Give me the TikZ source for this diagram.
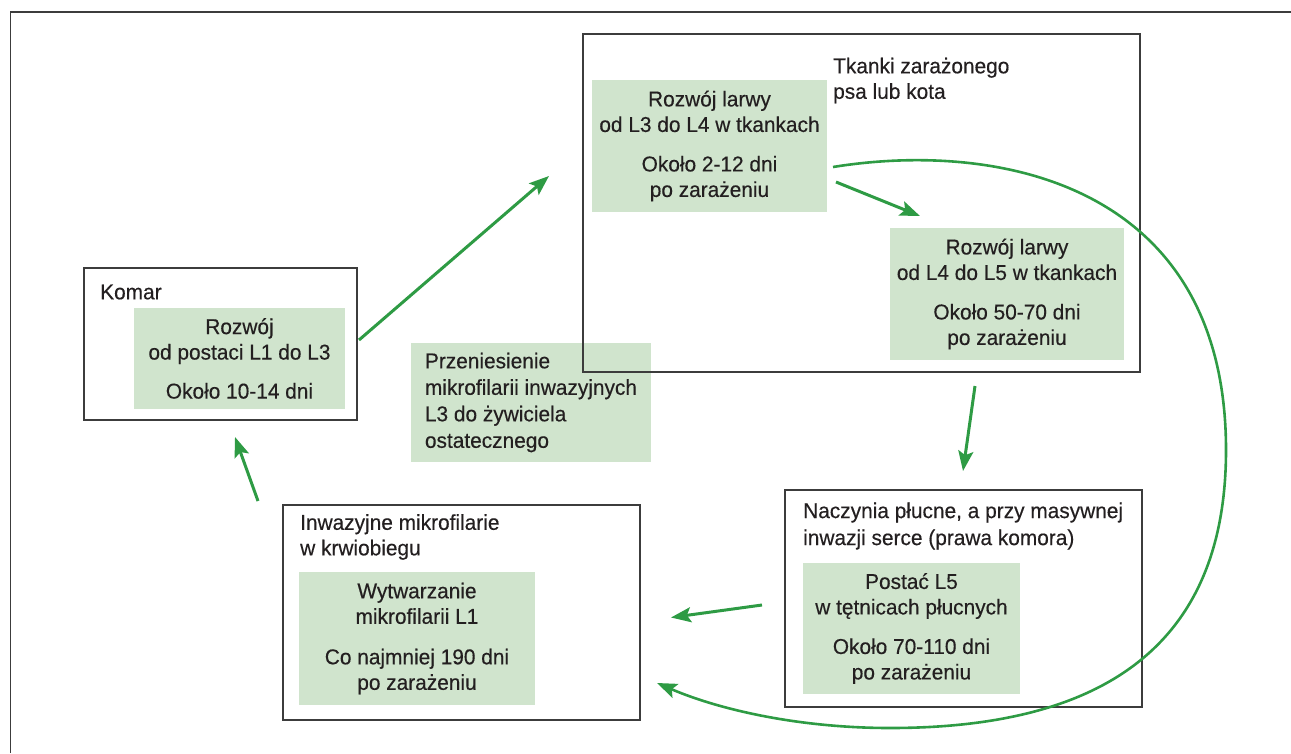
\documentclass[tikz,border=0pt]{standalone}
\usepackage{fontspec}
\setmainfont{Liberation Sans}[FakeStretch=0.97, FakeBold=0.35]
\usetikzlibrary{arrows.meta}
\definecolor{gfill}{RGB}{208,228,205}
\definecolor{garrow}{RGB}{46,155,68}
\definecolor{ink}{RGB}{35,31,32}
\definecolor{framec}{RGB}{60,60,60}
\begin{document}
\begin{tikzpicture}[x=1pt,y=-1pt,
  every node/.style={font=\fontsize{21.5}{25.5}\selectfont, text=ink},
  outerbox/.style={draw=framec, line width=1.3pt, inner sep=0pt},
  greenbox/.style={fill=gfill, inner sep=0pt, align=center},
  lbl/.style={inner sep=0pt, align=left, anchor=west},
  flow/.style={draw=garrow, line width=3pt, -{Stealth[length=20pt,width=15pt,inset=4pt]}}
]
\useasboundingbox (0,0) rectangle (1291,753);
% open outer frame
\coordinate (fA) at (10.5,753);
\coordinate (fB) at (10.5,12);
\coordinate (fC) at (1291,12);
\draw[framec, line width=1.5pt] (fA) -- (fB) -- (fC);

% transfer label box (behind host border)
\node[greenbox, align=left, minimum width=240pt, minimum height=119pt,
      font=\fontsize{21.5}{26.5}\selectfont] (transfer) at (531,402.5)
  {Przeniesienie\\mikrofilarii inwazyjnych\\L3 do żywiciela\\ostatecznego};

% outer boxes
\node[outerbox, minimum width=273pt, minimum height=152pt] (komar) at (220.5,344) {};
\node[outerbox, minimum width=557pt, minimum height=338pt] (host) at (861.5,203) {};
\node[outerbox, minimum width=357pt, minimum height=217pt] (vessels) at (963.5,598.5) {};
\node[outerbox, minimum width=357pt, minimum height=215pt] (blood) at (461.5,612.5) {};

% box labels
\node[lbl] (komarlbl) at (100,292) {Komar};
\node[lbl] (hostlbl) at (833,80.5) {Tkanki zarażonego\\psa lub kota};
\node[lbl, font=\fontsize{21.5}{27}\selectfont] (vessellbl) at (803,526) {Naczynia płucne, a przy masywnej\\inwazji serce (prawa komora)};
\node[lbl] (bloodlbl) at (300,537) {Inwazyjne mikrofilarie\\w krwiobiegu};

% green stage boxes
\node[greenbox, minimum width=211pt, minimum height=101pt] (g0) at (239.5,358.5)
  {Rozwój\\od postaci L1 do L3\\[13.5pt]Około 10-14 dni};
\node[greenbox, minimum width=235pt, minimum height=132pt] (g1) at (709.5,146)
  {Rozwój larwy\\od L3 do L4 w tkankach\\[14pt]Około 2-12 dni\\po zarażeniu};
\node[greenbox, minimum width=234pt, minimum height=132pt] (g2) at (1007,294)
  {Rozwój larwy\\od L4 do L5 w tkankach\\[14pt]Około 50-70 dni\\po zarażeniu};
\node[greenbox, minimum width=217pt, minimum height=131pt] (g3) at (911.5,628.5)
  {Postać L5\\w tętnicach płucnych\\[14pt]Około 70-110 dni\\po zarażeniu};
\node[greenbox, minimum width=236pt, minimum height=133pt] (g4) at (417,638.5)
  {Wytwarzanie\\mikrofilarii L1\\[15pt]Co najmniej 190 dni\\po zarażeniu};

% connector end points
\coordinate (a1s) at (359,340);   \coordinate (a1e) at (549,176);
\coordinate (a2s) at (836,182);   \coordinate (a2e) at (920,216);
\coordinate (a3s) at (975,386);   \coordinate (a3e) at (963,471);
\coordinate (a4s) at (762,605);   \coordinate (a4e) at (671,617.5);
\coordinate (a5s) at (258,501);   \coordinate (a5e) at (235,437);
\coordinate (cs) at (833,167);
\coordinate (cm1) at (1226,450);
\coordinate (cm2) at (890,728);
\coordinate (ce) at (657,683);

\draw[flow] (a1s) -- (a1e);
\draw[flow] (a2s) -- (a2e);
\draw[flow] (a3s) -- (a3e);
\draw[flow] (a4s) -- (a4e);
\draw[flow] (a5s) -- (a5e);
\draw[flow, line width=2.6pt] (cs) .. controls (1000,140) and (1226,185) .. (cm1)
  .. controls (1226,640) and (1110,728) .. (cm2)
  .. controls (800,728) and (720,710) .. (ce);
\end{tikzpicture}
\end{document}
